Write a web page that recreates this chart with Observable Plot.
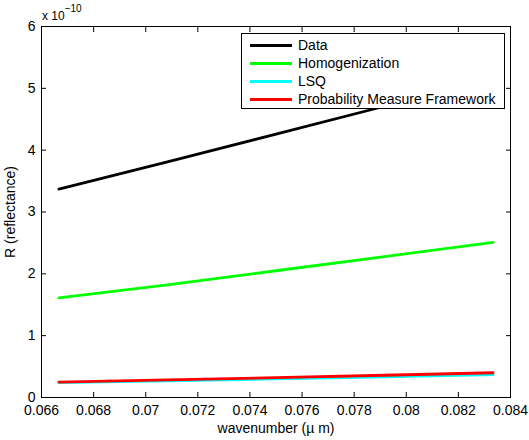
<!DOCTYPE html>
<html><head><meta charset="utf-8">
<script src="https://cdn.jsdelivr.net/npm/d3@7"></script>
<script src="https://cdn.jsdelivr.net/npm/@observablehq/plot@0.6"></script>
<style>
body{margin:0;background:#fff;}
#wrap{position:relative;width:529px;height:440px;font-family:"Liberation Sans",Arial,Helvetica,sans-serif;color:#000;}
#wrap svg{position:absolute;left:0;top:0;}
.expo{position:absolute;left:42px;top:9px;font-size:12px;line-height:14px;white-space:nowrap;}
.expo span{position:relative;top:-8px;font-size:10px;}
.legend{position:absolute;left:241px;top:33px;width:264px;height:76px;box-sizing:border-box;border:1px solid #000;background:#fff;}
.legend .row{position:absolute;left:0;height:18px;width:100%;}
.legend .sw{position:absolute;left:8px;top:7.5px;width:42px;height:3px;}
.legend .lb{position:absolute;left:56px;top:0;font-size:14px;line-height:18px;white-space:nowrap;}
</style></head><body><div id="wrap"></div>
<script>
// wavenumber (µm^-1) samples
const wavenumber = [0.066667, 0.070833, 0.075, 0.079167, 0.083333];
// R values in units of 1e-10
const dataR = [3.37, 3.81, 4.26, 4.71, 5.16];
const homogenizationR = [1.61, 1.82, 2.05, 2.28, 2.51];
const lsqR = [0.24, 0.27, 0.30, 0.335, 0.37];
const pmfR = [0.25, 0.285, 0.32, 0.36, 0.40];

const seriesNames = ["Data", "Homogenization", "LSQ", "Probability Measure Framework"];
const seriesColors = ["#000000", "#00ff00", "#00ffff", "#ff0000"];
const seriesValues = [dataR, homogenizationR, lsqR, pmfR];

const xTicks = [0.066, 0.068, 0.07, 0.072, 0.074, 0.076, 0.078, 0.08, 0.082, 0.084];
const xTickLabels = ["0.066", "0.068", "0.07", "0.072", "0.074", "0.076", "0.078", "0.08", "0.082", "0.084"];
const yTicks = [0, 1, 2, 3, 4, 5, 6];
const yTickLabels = ["0", "1", "2", "3", "4", "5", "6"];

const rows = [];
seriesNames.forEach((s, k) => seriesValues[k].forEach((v, i) => rows.push({w: wavenumber[i], r: v, series: s})));
const xLab = new Map(xTicks.map((t, i) => [t, xTickLabels[i]]));
const yLab = new Map(yTicks.map((t, i) => [t, yTickLabels[i]]));

const plot = Plot.plot({
  width: 529, height: 440,
  marginLeft: 41, marginRight: 19, marginTop: 26, marginBottom: 43,
  style: {fontFamily: "'Liberation Sans', Arial, Helvetica, sans-serif", fontSize: "14px", color: "#000", background: "transparent"},
  x: {domain: [0.066, 0.084]},
  y: {domain: [0, 6]},
  color: {domain: seriesNames, range: seriesColors},
  marks: [
    Plot.line(rows, {x: "w", y: "r", z: "series", stroke: "series", strokeWidth: 2.8}),
    Plot.frame({stroke: "#000", strokeWidth: 1}),
    Plot.axisX({ticks: xTicks, tickFormat: d => xLab.get(d), tickSize: -5, tickPadding: 13,
      label: "wavenumber (µ m)", labelAnchor: "center", labelArrow: "none", labelOffset: 35}),
    Plot.axisX({anchor: "top", ticks: xTicks, tickFormat: () => "", tickSize: -5, label: null}),
    Plot.axisY({ticks: yTicks, tickFormat: d => yLab.get(d), tickSize: -5, tickPadding: 11,
      label: "R (reflectance)", labelAnchor: "center", labelArrow: "none", labelOffset: 36}),
    Plot.axisY({anchor: "right", ticks: yTicks, tickFormat: () => "", tickSize: -5, label: null})
  ]
});
const wrap = document.getElementById("wrap");
wrap.appendChild(plot);

const expo = document.createElement("div");
expo.className = "expo";
expo.innerHTML = "x 10<span>\u221210</span>";
wrap.appendChild(expo);

const legend = document.createElement("div");
legend.className = "legend";
seriesNames.forEach((s, k) => {
  const row = document.createElement("div");
  row.className = "row";
  row.style.top = (2 + 18 * k) + "px";
  const sw = document.createElement("div");
  sw.className = "sw";
  sw.style.background = seriesColors[k];
  const lb = document.createElement("div");
  lb.className = "lb";
  lb.textContent = s;
  row.appendChild(sw); row.appendChild(lb);
  legend.appendChild(row);
});
wrap.appendChild(legend);
</script></body></html>
